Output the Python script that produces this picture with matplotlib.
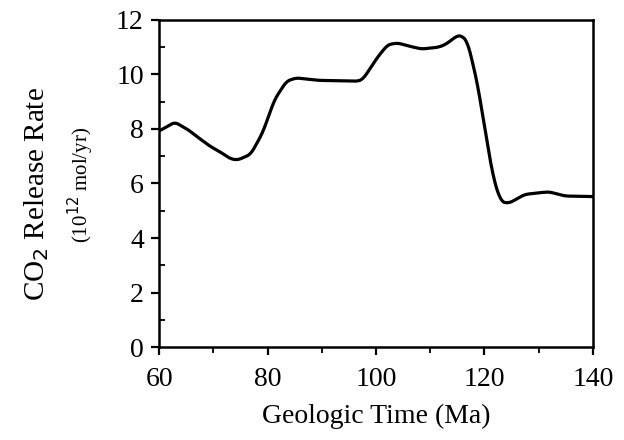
import matplotlib
matplotlib.use("Agg")
import matplotlib.pyplot as plt
from matplotlib.ticker import MultipleLocator
import numpy as np

# Curve: geologic time (Ma) and CO2 release rate (1e12 mol/yr)
age = [60, 62.9, 65.5, 67.3, 69.5, 71, 73.2, 74.5, 76.9, 79.1, 81.3, 83.5, 85.3, 89.4,
       96.7, 97.6, 100.4, 102.2, 104, 106.2, 108.4, 111.4, 112.8, 115, 115.8, 116.9,
       118.7, 120.2, 121.7, 123.1, 124.6, 126.1, 127.5, 130.5, 132, 134.9, 140]
co2_rate = [7.92, 8.25, 7.95, 7.67, 7.35, 7.19, 6.9, 6.86, 7.07, 7.86, 9.08, 9.75, 9.87,
            9.78, 9.75, 9.82, 10.66, 11.09, 11.15, 11.03, 10.93, 10.99, 11.09, 11.42,
            11.42, 11.2, 9.69, 7.86, 6.15, 5.32, 5.28, 5.45, 5.6, 5.67, 5.69, 5.54, 5.52]

x_ticks = [60, 80, 100, 120, 140]
y_ticks = [0, 2, 4, 6, 8, 10, 12]

plt.rcParams['font.family'] = ['Liberation Serif', 'DejaVu Serif']

fig = plt.figure(figsize=(6.24, 4.4), dpi=100)
ax = fig.add_axes([0.255, 0.211, 0.695, 0.744])

xs = np.linspace(60, 140, 400)
ys = np.interp(xs, age, co2_rate)
kernel = np.ones(7) / 7
ys_s = np.convolve(np.pad(ys, 3, mode='edge'), kernel, mode='valid')
ax.plot(xs, ys_s, color='black', lw=2.3)

ax.set_xlim(60, 140)
ax.set_ylim(0, 12)
ax.set_xticks(x_ticks)
ax.set_yticks(y_ticks)
ax.xaxis.set_minor_locator(MultipleLocator(10))
ax.yaxis.set_minor_locator(MultipleLocator(1))
ax.tick_params(axis='both', which='major', direction='out', length=6, width=1.6,
               labelsize=20, pad=5)
ax.tick_params(axis='x', which='major', pad=8)
ax.tick_params(axis='x', which='minor', direction='out', length=4, width=1.3)
ax.tick_params(axis='y', which='minor', direction='in', length=4, width=1.3)
for s in ax.spines.values():
    s.set_linewidth(1.8)

ax.set_xlabel("Geologic Time (Ma)", fontsize=20, labelpad=9)
fig.text(0.058, 0.56, "CO$_2$ Release Rate", rotation=90, fontsize=21,
         ha='center', va='center')
fig.text(0.130, 0.58, "(10$^{12}$ mol/yr)", rotation=90, fontsize=15,
         ha='center', va='center')

fig.savefig("out.png", dpi=100)
